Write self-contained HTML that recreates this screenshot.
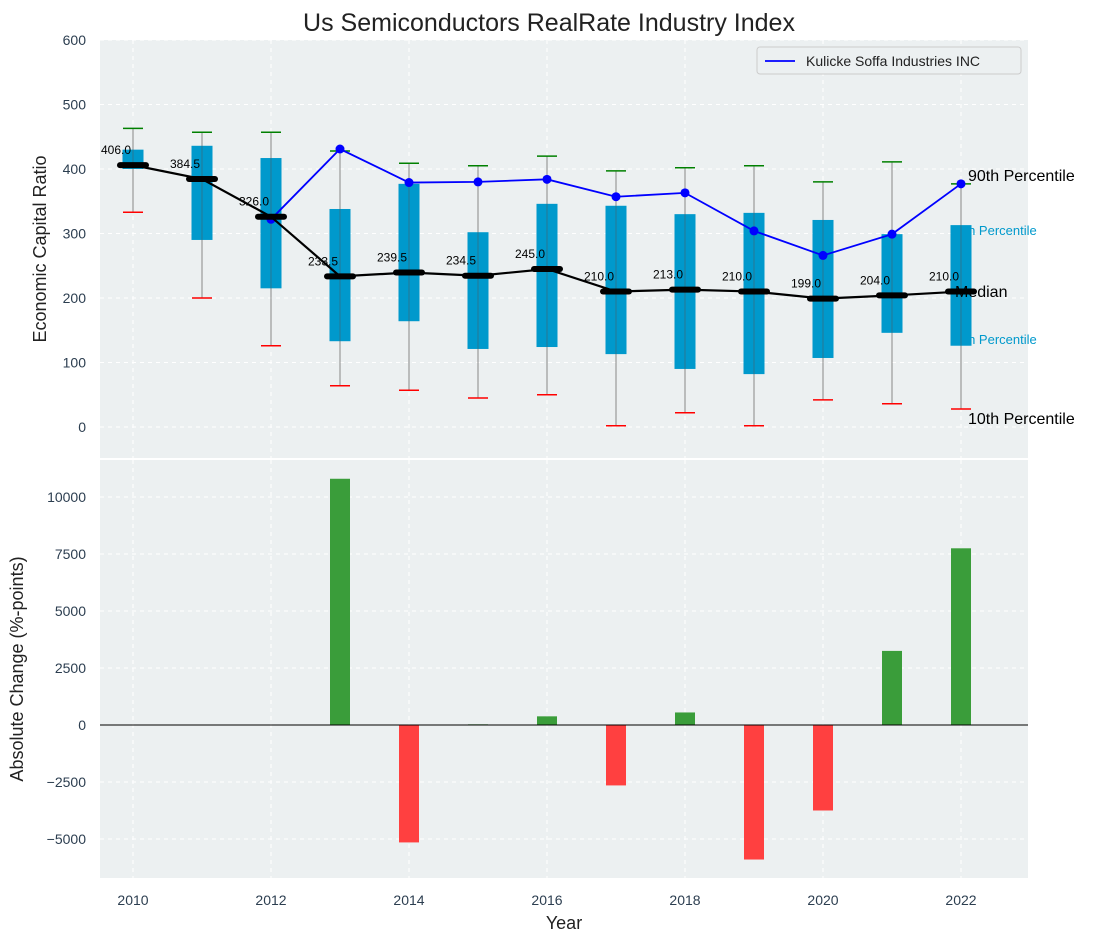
<!DOCTYPE html>
<html><head><meta charset="utf-8"><style>
body{margin:0;background:#fff;font-family:"Liberation Sans","DejaVu Sans",sans-serif}
</style></head><body>
<svg id="c" width="1103" height="942" xmlns="http://www.w3.org/2000/svg"></svg>
<script>
const years=[2010,2011,2012,2013,2014,2015,2016,2017,2018,2019,2020,2021,2022];
const q1=[400,290,215,133,164,121,124,113,90,82,107,146,126];
const q3=[430,436,417,338,377,302,346,343,330,332,321,299,313];
const wLow=[333,200,126,64,57,45,50,2,22,2,42,36,28];
const wHigh=[463,457,457,428,409,405,420,397,402,405,380,411,377];
const medians=[406,384.5,326,233.5,239.5,234.5,245,210,213,210,199,204,210];
const lineYears=[2012,2013,2014,2015,2016,2017,2018,2019,2020,2021,2022];
const lineVals=[322,431,379,380,384,357,363,304,266,299,377];
const chgYears=[2013,2014,2015,2016,2017,2018,2019,2020,2021,2022];
const chgVals=[10800,-5150,30,380,-2650,550,-5900,-3750,3250,7750];
const topTicks=[0,100,200,300,400,500,600];
const botTicks=[10000,7500,5000,2500,0,-2500,-5000];
const xTicks=[2010,2012,2014,2016,2018,2020,2022];

const svg=document.getElementById('c');const NS='http://www.w3.org/2000/svg';
function mk(t,a,p){const e=document.createElementNS(NS,t);for(const k in a)e.setAttribute(k,a[k]);(p||svg).appendChild(e);return e;}
const X=y=>133+(y-2010)*69;
const YT=v=>427-v*0.645;
const YB=v=>725-v*0.0228;
const L=100,R=1028;
let e=mk('rect',{x:L,y:40,width:R-L,height:418,fill:'#ecf0f1'});

e=mk('rect',{x:L,y:460,width:R-L,height:418,fill:'#ecf0f1'});

xTicks.forEach(t=>{[[40,458],[460,878]].forEach(r=>{mk('line',{x1:X(t),x2:X(t),y1:r[0],y2:r[1],stroke:'#fff','stroke-dasharray':'4,4'});});
 e=mk('text',{x:X(t),y:905,'text-anchor':'middle','font-size':14,fill:'#2c3e50'});e.textContent=t;
 });
topTicks.forEach(t=>{mk('line',{x1:L,x2:R,y1:YT(t),y2:YT(t),stroke:'#fff','stroke-dasharray':'4,4'});
 e=mk('text',{x:86,y:YT(t)+5,'text-anchor':'end','font-size':14,fill:'#2c3e50'});e.textContent=t;
 });
botTicks.forEach(t=>{mk('line',{x1:L,x2:R,y1:YB(t),y2:YB(t),stroke:'#fff','stroke-dasharray':'4,4'});
 e=mk('text',{x:86,y:YB(t)+5,'text-anchor':'end','font-size':14,fill:'#2c3e50'});e.textContent=t<0?'\u2212'+(-t):t;
 });
e=mk('text',{x:950,y:235,'font-size':13,fill:'#0099cc'});e.textContent='75th Percentile';

e=mk('text',{x:950,y:344,'font-size':13,fill:'#0099cc'});e.textContent='25th Percentile';

years.forEach((y,i)=>{const x=X(y);
 mk('line',{x1:x,x2:x,y1:YT(wLow[i]),y2:YT(wHigh[i]),stroke:'#888','stroke-width':1});
 mk('line',{x1:x-10,x2:x+10,y1:YT(wHigh[i]),y2:YT(wHigh[i]),stroke:'green','stroke-width':1.5});
 mk('line',{x1:x-10,x2:x+10,y1:YT(wLow[i]),y2:YT(wLow[i]),stroke:'red','stroke-width':1.5});
 e=mk('rect',{x:x-10.5,y:YT(q3[i]),width:21,height:YT(q1[i])-YT(q3[i]),fill:'#0099cc'});
 
 mk('line',{x1:x,x2:x,y1:YT(q3[i]),y2:YT(q1[i]),stroke:'#555','stroke-width':0.8,opacity:0.6});
});
e=mk('polyline',{points:lineYears.map((y,i)=>X(y)+','+YT(lineVals[i])).join(' '),fill:'none',stroke:'blue','stroke-width':1.8});

lineYears.forEach((y,i)=>{e=mk('circle',{cx:X(y),cy:YT(lineVals[i]),r:4.5,fill:'blue'});
 });
e=mk('polyline',{points:years.map((y,i)=>X(y)+','+YT(medians[i])).join(' '),fill:'none',stroke:'#000','stroke-width':2.2});

years.forEach((y,i)=>{mk('line',{x1:X(y)-13,x2:X(y)+13,y1:YT(medians[i]),y2:YT(medians[i]),stroke:'#000','stroke-width':6,'stroke-linecap':'round'});
 e=mk('text',{x:X(y)-2,y:YT(medians[i])-11,'text-anchor':'end','font-size':12,fill:'#000'});e.textContent=medians[i].toFixed(1);
 });
[['90th Percentile',968,181,'p90-label'],['Median',955,297,'median-label'],['10th Percentile',968,424,'p10-label']].forEach(a=>{
 e=mk('text',{x:a[1],y:a[2],'font-size':16,fill:'#000'});e.textContent=a[0];
 });
e=mk('g',{});
mk('rect',{x:757,y:47,width:264,height:27,fill:'#ecf0f1',stroke:'#ccc',rx:3},e);
mk('line',{x1:765,x2:795,y1:61,y2:61,stroke:'blue','stroke-width':1.8},e);
let t=mk('text',{x:806,y:66,'font-size':14,fill:'#222'},e);t.textContent='Kulicke Soffa Industries INC';
chgYears.forEach((y,i)=>{const v=chgVals[i];const y0=YB(Math.max(v,0)),y1=YB(Math.min(v,0));
 e=mk('rect',{x:X(y)-10,y:y0,width:20,height:Math.max(y1-y0,0.5),fill:v>=0?'#3a9d3a':'#ff4040'});
 });
mk('line',{x1:L,x2:R,y1:YB(0),y2:YB(0),stroke:'#000','stroke-width':1});
e=mk('text',{x:549,y:31,'text-anchor':'middle','font-size':25,fill:'#222'});e.textContent='Us Semiconductors RealRate Industry Index';

e=mk('text',{x:46,y:249,'text-anchor':'middle','font-size':18,fill:'#222',transform:'rotate(-90 46 249)'});e.textContent='Economic Capital Ratio';

e=mk('text',{x:23,y:669,'text-anchor':'middle','font-size':18,fill:'#222',transform:'rotate(-90 23 669)'});e.textContent='Absolute Change (%-points)';

e=mk('text',{x:564,y:929,'text-anchor':'middle','font-size':18,fill:'#222'});e.textContent='Year';

</script>
</body></html>
